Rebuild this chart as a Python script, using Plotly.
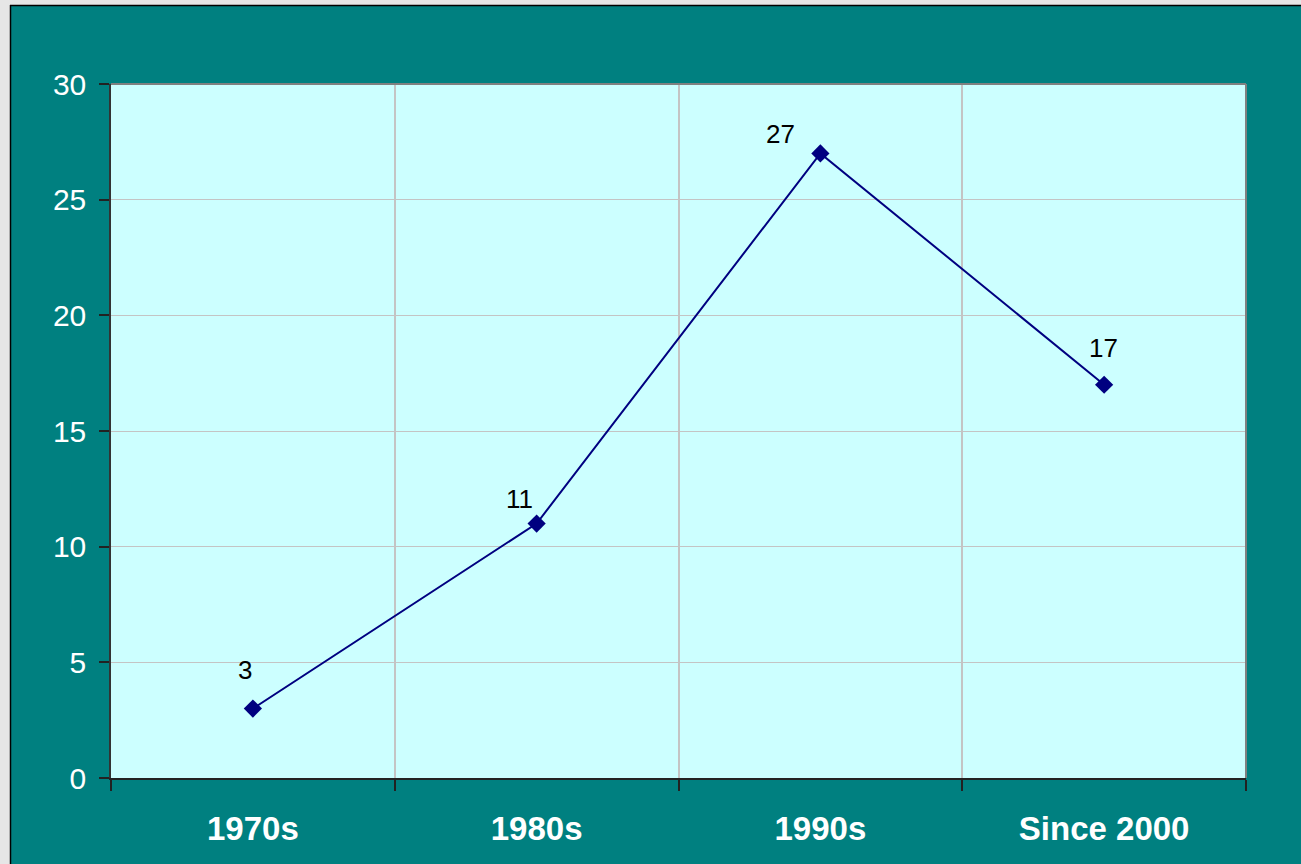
import plotly.graph_objects as go

categories = ["1970s", "1980s", "1990s", "Since 2000"]
values = [3, 11, 27, 17]
label_xshift = [-8, -17, -40, -1]
label_yshift = [39, 25, 19, 37]

TEAL = "#008080"
CYAN = "#CCFFFF"
NAVY = "#000080"
FONT = "Liberation Sans, Arial, sans-serif"

fig = go.Figure()
fig.add_trace(go.Scatter(
    x=categories, y=values, mode="lines+markers",
    line=dict(color=NAVY, width=2),
    marker=dict(symbol="diamond", size=14, color=NAVY),
    hoverinfo="skip", showlegend=False,
))

for c, v, dx, dy in zip(categories, values, label_xshift, label_yshift):
    fig.add_annotation(x=c, y=v, text=str(v), showarrow=False,
                       xshift=dx, yshift=dy,
                       font=dict(family=FONT, size=26, color="black"))

# plot area top/right gray border
fig.add_shape(type="line", xref="paper", yref="paper", x0=0, x1=1, y0=1, y1=1,
              line=dict(color="#808080", width=2))
fig.add_shape(type="line", xref="paper", yref="paper", x0=1, x1=1, y0=0, y1=1,
              line=dict(color="#808080", width=2))

# outer frame: light strip + black border line
W, H, L, T = 1135.0, 694.0, 111.0, 84.0
def px(x): return (x - L) / W
def py(y): return (T + H - y) / H
fig.add_shape(type="rect", xref="paper", yref="paper", x0=px(-5), x1=px(1310), y0=py(5), y1=py(-5),
              fillcolor="#e6e6e6", line=dict(width=0), layer="above")
fig.add_shape(type="rect", xref="paper", yref="paper", x0=px(-5), x1=px(10), y0=py(870), y1=py(-5),
              fillcolor="#e6e6e6", line=dict(width=0), layer="above")
fig.add_shape(type="line", xref="paper", yref="paper", x0=px(10), x1=px(1310), y0=py(5.5), y1=py(5.5),
              line=dict(color="black", width=1.5), layer="above")
fig.add_shape(type="line", xref="paper", yref="paper", x0=px(10.5), x1=px(10.5), y0=py(5), y1=py(870),
              line=dict(color="black", width=1.5), layer="above")

fig.update_layout(
    width=1301, height=864,
    margin=dict(l=111, r=55, t=84, b=86),
    paper_bgcolor=TEAL, plot_bgcolor=CYAN,
    font=dict(family=FONT, color="white"),
    xaxis=dict(
        type="category", range=[-0.5, 3.5], tickson="boundaries",
        showgrid=True, gridcolor="#c4c4c4", gridwidth=1.5,
        showline=True, linecolor="#222222", linewidth=1.5,
        ticks="outside", ticklen=11, tickcolor="#222222", tickwidth=1.5,
        tickfont=dict(family=FONT, size=33, color="white", weight="bold"),
        ticklabelstandoff=21, zeroline=False, fixedrange=True,
    ),
    yaxis=dict(
        range=[0, 30], dtick=5, tick0=0,
        showgrid=True, gridcolor="#c4c4c4", gridwidth=1.2,
        showline=True, linecolor="#333333", linewidth=1.5,
        ticks="outside", ticklen=10, tickcolor="#222222", tickwidth=1.5,
        tickfont=dict(family=FONT, size=30, color="white"),
        ticklabelstandoff=7, zeroline=False, fixedrange=True,
    ),
)

fig.write_html("out.html", config={"displayModeBar": False},
               post_script="document.body.style.margin='0';document.body.style.overflow='hidden';")
